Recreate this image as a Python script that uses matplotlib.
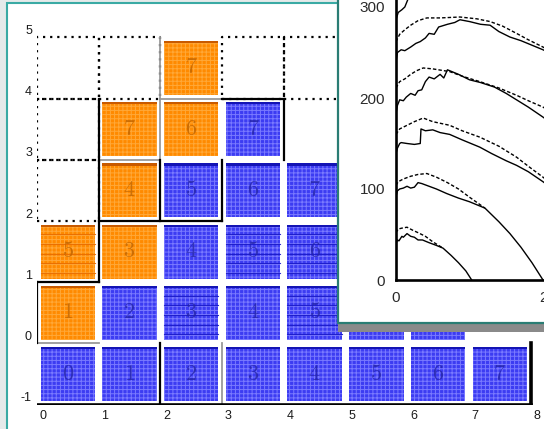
"""Stacked cell diagram with an inset of load curves (matplotlib -> out.png)."""

import matplotlib
matplotlib.use("Agg")
import matplotlib.pyplot as plt
from matplotlib.patches import Rectangle

plt.rcParams["font.family"] = ["Liberation Sans", "DejaVu Sans"]
plt.rcParams["axes.unicode_minus"] = False
plt.rcParams["mathtext.fontset"] = "cm"
plt.rcParams["hatch.linewidth"] = 0.7

# ---- cell grid data ----
cell_col = [0, 1, 2, 3, 4, 5, 6, 7,
            0, 1, 2, 3, 4, 5, 6,
            0, 1, 2, 3, 4,
            1, 2, 3, 4,
            1, 2, 3,
            2]
cell_row = [-1, -1, -1, -1, -1, -1, -1, -1,
            0, 0, 0, 0, 0, 0, 0,
            1, 1, 1, 1, 1,
            2, 2, 2, 2,
            3, 3, 3,
            4]
cell_label = [0, 1, 2, 3, 4, 5, 6, 7,
              1, 2, 3, 4, 5, 6, 7,
              5, 3, 4, 5, 6,
              4, 5, 6, 7,
              7, 6, 7,
              7]
cell_kind = (["b"] * 8
             + ["o", "b", "b", "b", "b", "b", "b"]
             + ["o", "o", "b", "b", "b"]
             + ["o", "b", "b", "b"]
             + ["o", "o", "b"]
             + ["o"])
cell_striped = ([False] * 8
                + [False, False, True, False, True, False, False]
                + [True, False, False, True, True]
                + [False] * 4
                + [False] * 3
                + [False])

empty_col = [0, 0, 0, 1, 3, 4]
empty_row = [2, 3, 4, 4, 4, 4]

# cell borders, in grid-line indices (x0, y0, x1, y1)
outer_edges = [(0, -1, 8, -1), (8, -1, 8, 0)]
black_edges = [(3, 4, 4, 4), (4, 4, 4, 3), (1, 4, 1, 1), (2, 3, 2, 2),
               (1, 2, 3, 2), (3, 3, 3, 2), (0, 1, 1, 1), (0, 1, 0, 0),
               (2, 0, 2, -1)]
gray_edges = [(2, 4, 2, 5), (2, 4, 3, 4), (0, 0, 1, 0), (3, 0, 3, -1),
              (1, 3, 2, 3), (2, 3, 2, 4)]

x_ticks = [0, 1, 2, 3, 4, 5, 6, 7, 8]
y_ticks = [-1, 0, 1, 2, 3, 4, 5]

# ---- inset curve data (solid / dashed pairs) ----
g1_xs = [0, 0.02, 0.04, 0.08, 0.1, 0.15, 0.2, 0.25, 0.3, 0.36, 0.45, 0.55, 0.64, 0.75, 0.85, 0.95, 1.03]
g1_ys = [40, 44, 43, 48, 47, 51, 48, 47, 44, 44, 41, 38, 35, 27, 19, 10, 0]
g1_xd = [0, 0.03, 0.08, 0.15, 0.22, 0.3, 0.4, 0.5, 0.64]
g1_yd = [52, 56, 57, 58, 55, 52, 48, 42, 35]

g2_xs = [0, 0.02, 0.05, 0.1, 0.15, 0.2, 0.25, 0.3, 0.35, 0.45, 0.55, 0.69, 0.85, 1.0, 1.21, 1.4, 1.55, 1.7, 1.85, 2.0]
g2_ys = [92, 98, 100, 101, 103, 101, 102, 107, 106, 103, 100, 95, 90, 86, 79, 64, 51, 36, 19, 0]
g2_xd = [0, 0.03, 0.1, 0.2, 0.3, 0.42, 0.55, 0.7, 0.85, 1.0, 1.21]
g2_yd = [104, 108, 111, 114, 116, 117, 113, 107, 100, 91, 79]

g3_xs = [0, 0.02, 0.05, 0.07, 0.15, 0.25, 0.33, 0.34, 0.4, 0.5, 0.6, 0.73, 0.9, 1.14, 1.3, 1.5, 1.64, 1.8, 2.0, 2.2]
g3_ys = [139, 145, 150, 151, 150, 149, 150, 166, 164, 165, 162, 160, 154, 146, 139, 131, 126, 119, 108, 96]
g3_xd = [0, 0.05, 0.15, 0.25, 0.37, 0.5, 0.73, 0.9, 1.14, 1.4, 1.64, 1.8, 2.0, 2.2]
g3_yd = [160, 166, 170, 174, 178, 174, 170, 164, 157, 147, 135, 125, 113, 100]

g4_xs = [0, 0.02, 0.05, 0.1, 0.14, 0.2, 0.26, 0.3, 0.35, 0.4, 0.45, 0.52, 0.6, 0.65, 0.7, 0.85, 1.0, 1.15, 1.34, 1.5, 1.64, 1.8, 2.0, 2.2]
g4_ys = [183, 192, 198, 197, 201, 205, 203, 208, 209, 218, 223, 221, 226, 222, 231, 226, 220, 217, 212, 205, 198, 190, 179, 167]
g4_xd = [0, 0.05, 0.12, 0.2, 0.28, 0.37, 0.5, 0.73, 0.9, 1.14, 1.4, 1.64, 1.8, 2.0, 2.2]
g4_yd = [211, 218, 221, 226, 230, 233, 232, 229, 224, 218, 211, 203, 197, 190, 180]

g5_xs = [0, 0.02, 0.07, 0.12, 0.2, 0.27, 0.33, 0.4, 0.45, 0.52, 0.58, 0.7, 0.8, 0.87, 1.0, 1.15, 1.28, 1.4, 1.55, 1.7, 1.85, 2.0, 2.2]
g5_ys = [240, 250, 253, 252, 256, 260, 262, 266, 271, 270, 278, 281, 283, 286, 284, 281, 280, 273, 267, 263, 258, 253, 245]
g5_xd = [0, 0.05, 0.12, 0.2, 0.3, 0.42, 0.6, 0.87, 1.1, 1.28, 1.45, 1.64, 1.8, 2.0, 2.2]
g5_yd = [262, 270, 275, 280, 285, 288, 288, 289, 287, 284, 279, 271, 264, 256, 247]

g6_xs = [0, 0.03, 0.08, 0.12, 0.18, 0.3, 0.5, 0.8, 1.1, 1.4, 1.7, 2.0, 2.2]
g6_ys = [286, 294, 297, 300, 312, 318, 326, 334, 338, 335, 328, 318, 310]
g6_xd = [0, 0.05, 0.15, 0.3, 0.6, 1.0, 1.4, 1.8, 2.2]
g6_yd = [310, 318, 325, 332, 340, 346, 343, 334, 322]

inset_xticks = [0, 2]
inset_yticks = [0, 100, 200, 300]

# ---- layout helpers ----
W, H = 544, 429
X_OFF, Y_OFF = -0.1, -0.13   # cell corner offset from integer ticks
MARGIN = 0.06

FILL = {"o": "#ff8a00", "b": "#3c3cf2"}
HATCH = {"o": "#ffa838", "b": "#7a7aff"}
TOP = {"o": "#c85a00", "b": "#1414b4"}
STRIPE = {"o": "#e86c00", "b": "#1a1ac8"}
NUM = {"o": "#c06400", "b": "#2424a8"}


def fig_box(left, top, right, bottom):
    return [left / W, 1 - bottom / H, (right - left) / W, (bottom - top) / H]


fig = plt.figure(figsize=(W / 100, H / 100), dpi=100)
fig.patch.set_facecolor("#e5eaea")

# main white frame with teal border
l, b, w, h = fig_box(7, 3, 600, 460)
fig.add_artist(Rectangle((l, b), w, h, transform=fig.transFigure,
                         facecolor="white", edgecolor="#3aaaa4", linewidth=1.5, zorder=-2))

ax = fig.add_axes(fig_box(36.8, 26.3, 540.0, 404.7))
ax.set_zorder(0)
ax.set_xlim(-0.1, 8.05)
ax.set_ylim(-1.13, 5.05)
ax.patch.set_visible(False)
for s in ax.spines.values():
    s.set_visible(False)
ax.set_xticks(x_ticks)
ax.set_xticklabels([str(t) for t in x_ticks])
ax.set_yticks(y_ticks)
ax.set_yticklabels([str(t) for t in y_ticks])
ax.tick_params(length=0, pad=3.5, labelsize=9, labelcolor="#1a1a1a")

# dotted outlines of empty cells
for c, r in zip(empty_col, empty_row):
    x0, y0 = c + X_OFF, r + Y_OFF
    ax.plot([x0, x0 + 1, x0 + 1, x0, x0], [y0, y0, y0 + 1, y0 + 1, y0],
            color="black", linestyle=(0, (1, 2.2)), linewidth=1.6, zorder=1)

# cells
size = 1 - 2 * MARGIN
for c, r, lab, k, st in zip(cell_col, cell_row, cell_label, cell_kind, cell_striped):
    x0, y0 = c + X_OFF + MARGIN, r + Y_OFF + MARGIN
    ax.add_patch(Rectangle((x0, y0), size, size, facecolor=FILL[k], edgecolor="none", zorder=2))
    ax.add_patch(Rectangle((x0, y0), size, size, fill=False, hatch="++++",
                           edgecolor=HATCH[k], linewidth=0, zorder=3))
    ax.add_patch(Rectangle((x0, y0 + size - 0.035), size, 0.035, facecolor=TOP[k],
                           edgecolor="none", zorder=4))
    if st:
        for f in [0.1, 0.28, 0.46, 0.64, 0.82]:
            ax.plot([x0, x0 + size], [y0 + size * f] * 2, color=STRIPE[k],
                    linewidth=0.8, alpha=0.9, zorder=4)
    ax.text(x0 + size / 2, y0 + size / 2, f"${lab}$", ha="center", va="center",
            fontsize=16, color=NUM[k], alpha=0.8, zorder=5)

# cell borders
for x0, y0, x1, y1 in gray_edges:
    ax.plot([x0 + X_OFF, x1 + X_OFF], [y0 + Y_OFF, y1 + Y_OFF], color="#9a9a9a", linewidth=1.3, zorder=6)
for x0, y0, x1, y1 in black_edges:
    ax.plot([x0 + X_OFF, x1 + X_OFF], [y0 + Y_OFF, y1 + Y_OFF], color="black", linewidth=1.6, zorder=6)
for x0, y0, x1, y1 in outer_edges:
    ax.plot([x0 + X_OFF, x1 + X_OFF], [y0 + Y_OFF, y1 + Y_OFF], color="black", linewidth=2.6,
            solid_capstyle="projecting", zorder=6)

# ---- inset panel ----
l, b, w, h = fig_box(338, 323, 600, 332)
fig.add_artist(Rectangle((l, b), w, h, transform=fig.transFigure,
                         facecolor="#8a8a8a", edgecolor="none", zorder=1))
l, b, w, h = fig_box(338, -20, 600, 323)
fig.add_artist(Rectangle((l, b), w, h, transform=fig.transFigure,
                         facecolor="white", edgecolor="#2a7d74", linewidth=1.6, zorder=1.5))

ins = fig.add_axes(fig_box(396, -47.6, 557.7, 280))
ins.set_zorder(2)
ins.patch.set_visible(False)
ins.set_xlim(0, 2.2)
ins.set_ylim(0, 360)
ins.spines["top"].set_visible(False)
ins.spines["right"].set_visible(False)
ins.spines["left"].set_linewidth(1.9)
ins.spines["bottom"].set_linewidth(1.9)
ins.set_xticks(inset_xticks)
ins.set_yticks(inset_yticks)
ins.tick_params(length=0, pad=8, labelsize=11, labelcolor="#2a2a2a")

solid_x = [g1_xs, g2_xs, g3_xs, g4_xs, g5_xs, g6_xs]
solid_y = [g1_ys, g2_ys, g3_ys, g4_ys, g5_ys, g6_ys]
dash_x = [g1_xd, g2_xd, g3_xd, g4_xd, g5_xd, g6_xd]
dash_y = [g1_yd, g2_yd, g3_yd, g4_yd, g5_yd, g6_yd]
for xs, ys in zip(solid_x, solid_y):
    ins.plot(xs, ys, color="black", linewidth=1.0)
for xs, ys in zip(dash_x, dash_y):
    ins.plot(xs, ys, color="black", linewidth=1.0, dashes=(2.5, 1.5))

fig.savefig("out.png", dpi=100)
plt.close(fig)
